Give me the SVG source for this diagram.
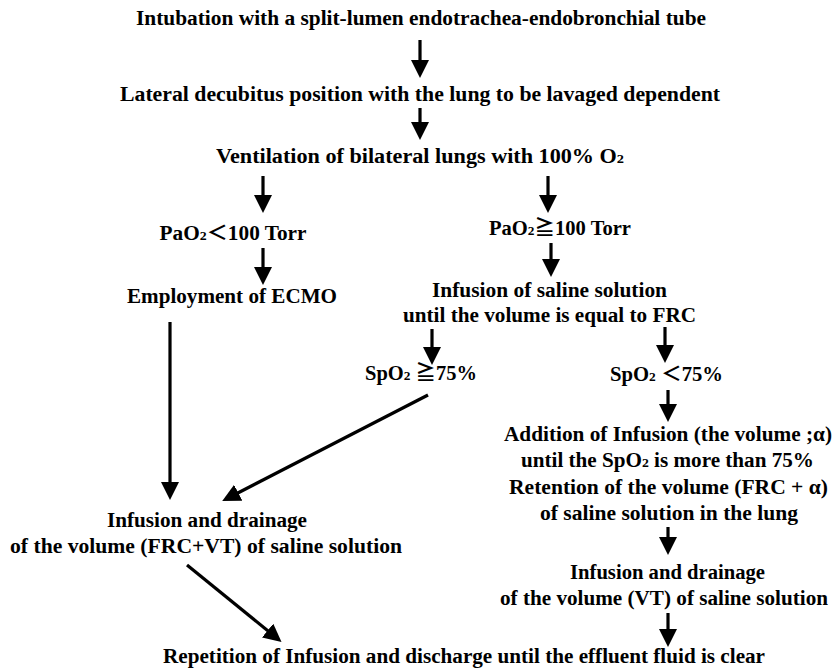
<svg xmlns="http://www.w3.org/2000/svg" width="835" height="669" viewBox="0 0 835 669">
<style>
text{font-family:"Liberation Serif","Times New Roman","Noto Sans CJK JP",serif;font-weight:bold;font-size:20px;fill:#000;text-anchor:middle}
.sub{font-size:13px}
.c{stroke:#000;stroke-width:3.2;fill:none}
</style>
<defs>
<marker id="ah" markerUnits="userSpaceOnUse" markerWidth="18" markerHeight="18" refX="7" refY="9" orient="auto" viewBox="0 0 18 18">
<path d="M0,0 L18,9 L0,18 Z" fill="#000"/>
</marker>
</defs>
<rect width="835" height="669" fill="#fff"/>
<g id="connectors">
<line class="c" x1="420" y1="40" x2="420" y2="67" marker-end="url(#ah)"/>
<line class="c" x1="420" y1="108" x2="420" y2="129" marker-end="url(#ah)"/>
<line class="c" x1="263" y1="176" x2="263" y2="202" marker-end="url(#ah)"/>
<line class="c" x1="548" y1="176" x2="548" y2="202" marker-end="url(#ah)"/>
<line class="c" x1="263" y1="248" x2="263" y2="274" marker-end="url(#ah)"/>
<line class="c" x1="551" y1="243" x2="551" y2="266" marker-end="url(#ah)"/>
<line class="c" x1="432" y1="329" x2="432" y2="354" marker-end="url(#ah)"/>
<line class="c" x1="665" y1="327" x2="665" y2="352" marker-end="url(#ah)"/>
<line class="c" x1="668" y1="390" x2="668" y2="411" marker-end="url(#ah)"/>
<line class="c" x1="668" y1="527" x2="668" y2="544" marker-end="url(#ah)"/>
<line class="c" x1="668" y1="613" x2="668" y2="636" marker-end="url(#ah)"/>
<line class="c" x1="170" y1="322" x2="170" y2="489" marker-end="url(#ah)"/>
<line class="c" x1="428" y1="395" x2="232" y2="496" marker-end="url(#ah)"/>
<line class="c" x1="187" y1="565" x2="273" y2="635" marker-end="url(#ah)"/>
</g>
<g id="n1"><text x="421" y="25" textLength="570" lengthAdjust="spacingAndGlyphs">Intubation with a split-lumen endotrachea-endobronchial tube</text></g>
<g id="n2"><text x="420" y="101" textLength="600" lengthAdjust="spacingAndGlyphs">Lateral decubitus position with the lung to be lavaged dependent</text></g>
<g id="n3"><text x="420" y="163" textLength="408" lengthAdjust="spacingAndGlyphs">Ventilation of bilateral lungs with 100% O<tspan class="sub">2</tspan></text></g>
<g id="n4"><text x="233" y="240" textLength="147" lengthAdjust="spacingAndGlyphs">PaO<tspan class="sub">2</tspan>＜100 Torr</text></g>
<g id="n5"><text x="560" y="235" textLength="142" lengthAdjust="spacingAndGlyphs">PaO<tspan class="sub">2</tspan>≧100 Torr</text></g>
<g id="n6"><text x="232" y="303" textLength="210" lengthAdjust="spacingAndGlyphs">Employment of ECMO</text></g>
<g id="n7"><text x="549.5" y="297" textLength="235" lengthAdjust="spacingAndGlyphs">Infusion of saline solution</text><text x="549.5" y="322" textLength="293" lengthAdjust="spacingAndGlyphs">until the volume is equal to FRC</text></g>
<g id="n8"><text x="421" y="380" textLength="112" lengthAdjust="spacingAndGlyphs">SpO<tspan class="sub">2</tspan> ≧75%</text></g>
<g id="n9"><text x="666.5" y="381" textLength="113" lengthAdjust="spacingAndGlyphs">SpO<tspan class="sub">2</tspan> ＜75%</text></g>
<g id="n10">
<text x="668" y="441" textLength="328" lengthAdjust="spacingAndGlyphs">Addition of Infusion (the volume ;α)</text>
<text x="667.5" y="467" textLength="293" lengthAdjust="spacingAndGlyphs">until the SpO<tspan class="sub">2</tspan> is more than 75%</text>
<text x="668.5" y="494" textLength="319" lengthAdjust="spacingAndGlyphs">Retention of the volume (FRC + α)</text>
<text x="669" y="520" textLength="258" lengthAdjust="spacingAndGlyphs">of saline solution in the lung</text>
</g>
<g id="n11"><text x="667.5" y="579" textLength="195" lengthAdjust="spacingAndGlyphs">Infusion and drainage</text><text x="664" y="605" textLength="328" lengthAdjust="spacingAndGlyphs">of the volume (VT) of saline solution</text></g>
<g id="n12"><text x="207" y="527" textLength="200" lengthAdjust="spacingAndGlyphs">Infusion and drainage</text><text x="206" y="553" textLength="392" lengthAdjust="spacingAndGlyphs">of  the volume (FRC+VT) of saline solution</text></g>
<g id="n13"><text x="464" y="663" textLength="602" lengthAdjust="spacingAndGlyphs">Repetition of Infusion and discharge until the effluent fluid is clear</text></g>
</svg>
